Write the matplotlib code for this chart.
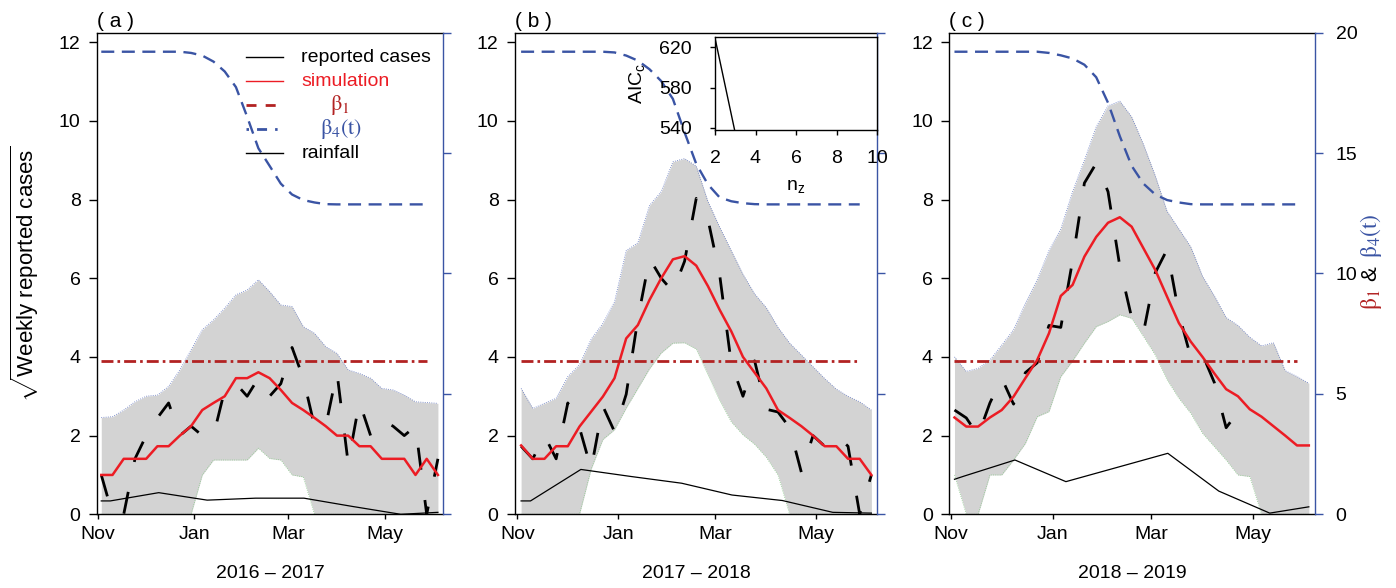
import numpy as np
import matplotlib.pyplot as plt

plt.rcParams['font.family'] = ['Liberation Sans', 'DejaVu Sans']
plt.rcParams['font.size'] = 14
plt.rcParams['mathtext.fontset'] = 'stix'
plt.rcParams['mathtext.rm'] = 'Liberation Sans'
plt.rcParams['mathtext.it'] = 'Liberation Sans:italic'
plt.rcParams['axes.linewidth'] = 1.0

RED = '#ec1c24'
DARKRED = '#b22222'
BLUE = '#3a54a4'
nan = np.nan

# x axis: days since 1 November, one point per week
weeks = np.linspace(2.3, 214.4, 31)
rain_days = [2.3, 8, 38.5, 69, 99.5, 130, 160.5, 191, 214.4]
month_days = [0, 61, 120, 181]
month_labels = ['Nov', 'Jan', 'Mar', 'May']
seasons = ['2016 \u2013 2017', '2017 \u2013 2018', '2018 \u2013 2019']
letters = ['( a )', '( b )', '( c )']

# sqrt weekly reported cases
rep_a = [1.0, 0.0, 0.0, 1.41, 2.0, 2.45, 2.83, 2.0, 2.24, 2.0, 2.0, 3.16, 3.32, 3.0, 3.46,
         3.0, 3.32, 4.24, 3.46, 2.24, 2.24, 3.61, 1.3, 2.86, 2.0, 2.4, 2.24, 2.0, 2.24, 0.0, 1.41]
rep_b = [1.73, 1.41, 2.0, 1.41, 2.83, 2.2, 1.15, 2.75, 2.1, 3.05, 4.97, 6.5, 6.0, 5.66, 6.43,
         8.03, 7.5, 6.1, 3.83, 3.0, 3.9, 2.67, 2.6, 2.2, 1.07, 2.0, 1.73, 2.0, 1.73, 0.0, 1.0]
rep_c = [2.65, 2.45, 2.0, 2.83, 3.46, 2.8, 3.6, 3.85, 4.8, 4.75, 6.45, 8.42, 8.92, 8.2, 6.3,
         5.0, 4.62, 6.14, 6.73, 5.1, 4.0, 4.06, 3.35, 2.2, 2.6, nan, nan, nan, nan, nan, nan]

# simulation (median) and envelope
sim_a = [1.0, 1.0, 1.41, 1.41, 1.41, 1.73, 1.73, 2.0, 2.24, 2.65, 2.83, 3.0, 3.46, 3.46, 3.61,
         3.46, 3.16, 2.83, 2.65, 2.45, 2.24, 2.0, 2.0, 1.73, 1.73, 1.41, 1.41, 1.41, 1.0, 1.41, 1.0]
sim_b = [1.75, 1.41, 1.41, 1.73, 1.73, 2.23, 2.61, 2.99, 3.46, 4.47, 4.81, 5.45, 6.0, 6.48, 6.56,
         6.32, 5.8, 5.2, 4.65, 4.0, 3.6, 3.2, 2.65, 2.45, 2.24, 2.0, 1.73, 1.73, 1.41, 1.41, 1.0]
sim_c = [2.46, 2.23, 2.23, 2.46, 2.65, 2.99, 3.46, 3.92, 4.6, 5.55, 5.83, 6.55, 7.05, 7.41, 7.55,
         7.31, 6.76, 6.21, 5.53, 4.86, 4.39, 4.0, 3.58, 3.18, 3.0, 2.67, 2.48, 2.24, 2.0, 1.75, 1.75]

up_a = [2.46, 2.48, 2.65, 2.86, 3.0, 3.03, 3.25, 3.67, 4.18, 4.69, 4.94, 5.24, 5.58, 5.7, 5.96,
        5.66, 5.32, 5.28, 4.77, 4.6, 4.26, 4.09, 3.67, 3.58, 3.46, 3.2, 3.16, 3.03, 2.86, 2.84, 2.82]
up_b = [3.2, 2.69, 2.82, 2.95, 3.5, 3.8, 4.45, 4.85, 5.4, 6.7, 6.9, 7.85, 8.2, 8.96, 9.04,
        8.85, 7.95, 7.3, 6.7, 6.1, 5.6, 5.25, 4.75, 4.35, 4.05, 3.75, 3.45, 3.18, 3.0, 2.86, 2.65]
up_c = [4.0, 3.63, 3.71, 3.92, 4.3, 4.69, 5.36, 5.96, 6.7, 7.25, 8.2, 9.0, 9.85, 10.38, 10.5,
        10.1, 9.4, 8.6, 7.7, 7.25, 6.8, 6.05, 5.55, 5.0, 4.8, 4.5, 4.28, 4.36, 3.65, 3.5, 3.33]

lo_a = [0, 0, 0, 0, 0, 0, 0, 0, 0, 1.0, 1.38, 1.38, 1.38, 1.38, 1.68,
        1.42, 1.38, 1.0, 0.95, 0, 0, 0, 0, 0, 0, 0, 0, 0, 0, 0, 0]
lo_b = [0, 0, 0, 0, 0, 0, 1.15, 1.9, 2.15, 2.7, 3.2, 3.7, 4.1, 4.35, 4.36,
        4.2, 3.55, 2.9, 2.35, 2.02, 1.78, 1.45, 1.0, 0, 0, 0, 0, 0, 0, 0, 0]
lo_c = [1.0, 0, 0, 1.0, 1.0, 1.38, 1.8, 2.48, 2.61, 3.5, 3.9, 4.35, 4.77, 4.9, 5.07,
        4.98, 4.52, 4.05, 3.42, 2.95, 2.57, 2.06, 1.72, 1.38, 1.0, 0.96, 0, 0, 0, 0, 0]

# monthly rainfall (scaled)
rain_a = [0.34, 0.34, 0.55, 0.36, 0.41, 0.41, 0.2, 0.0, 0.05]
rain_b = [0.34, 0.34, 1.14, 0.96, 0.79, 0.49, 0.35, 0.05, 0.03]
rain_c = [0.89, 0.97, 1.38, 0.83, 1.19, 1.55, 0.59, 0.03, 0.19]

# transmission rates (right axis)
beta1 = 6.35
beta4_a = [19.21] * 8 + [19.16, 19.05, 18.8, 18.39, 17.74, 16.51, 15.2, 14.47, 13.73, 13.28,
                         13.05, 12.95, 12.88] + [12.87] * 10
beta4_b = [19.21] * 8 + [19.18, 19.05, 18.84, 18.48, 17.99, 17.25, 15.86, 14.55, 13.7, 13.16,
                         13.0, 12.92, 12.88] + [12.87] * 10
beta4_c = [19.21] * 8 + [19.16, 19.06, 18.93, 18.67, 18.15, 17.09, 15.7, 14.47, 13.73, 13.28,
                         13.05, 12.95, 12.88] + [12.87] * 10

# inset: AICc against number of zones
nz = [2, 3, 4, 5, 6, 7, 8, 9, 10]
aicc = [629, 535, 526, 522, 527, 524, 522, 521, 520]

panels = [
    (rep_a, sim_a, up_a, lo_a, rain_a, beta4_a),
    (rep_b, sim_b, up_b, lo_b, rain_b, beta4_b),
    (rep_c, sim_c, up_c, lo_c, rain_c, beta4_c),
]

B1 = r'$\mathrm{\beta}_1$'
B4 = r'$\mathrm{\beta}_4\mathrm{(t)}$'

W, H = 1396, 588
fig = plt.figure(figsize=(W / 100, H / 100), dpi=100)


def add_axes_px(left, right, top, bottom):
    return fig.add_axes([left / W, 1 - bottom / H, (right - left) / W, (bottom - top) / H])


panel_px = [(97, 443), (515, 877), (949.3, 1315)]
xlims = [(-0.4, 217.6), (-1.4, 217.8), (-0.8, 218.1)]


def draw_panel(ax, rep, sim, up, lo, rain, beta4, show_right):
    ax.fill_between(weeks, lo, up, color='#d3d3d3', lw=0, zorder=1)
    ax.plot(weeks, up, color='#6478c0', lw=0.6, ls=':', zorder=1.5)
    ax.plot(weeks, lo, color='#8ccc8c', lw=0.6, ls=':', zorder=1.5)
    ax.plot(rain_days, rain, color='black', lw=0.9, zorder=2)
    ax.plot(weeks, rep, color='black', lw=2, ls=(0, (8, 11)), zorder=3)
    ax.plot(weeks, sim, color=RED, lw=1.8, zorder=4)
    ax.set_ylim(0, 12.24)
    ax.set_yticks(range(0, 13, 2))
    ax.set_xticks(month_days)
    ax.set_xticklabels(month_labels)
    ax.tick_params(axis='y', length=5.8, width=1, pad=6)
    ax.tick_params(axis='x', length=3.6, width=1, pad=5)
    ax.spines['right'].set_visible(False)

    ax2 = ax.twinx()
    ax2.plot(weeks[:30], [beta1] * 30, color=DARKRED, lw=2,
             ls=(0, (4.3, 1.45, 0.95, 1.45)))
    ax2.plot(weeks[:30], beta4[:30], color=BLUE, lw=1.7, ls=(0, (5.5, 3.2)))
    ax2.set_ylim(0, 20)
    ax2.set_yticks([0, 5, 10, 15, 20])
    for s in ['left', 'top', 'bottom']:
        ax2.spines[s].set_visible(False)
    ax2.spines['right'].set_color(BLUE)
    ax2.tick_params(axis='y', length=5.8, width=1, pad=9, color=BLUE,
                    labelcolor='black', labelright=show_right)
    return ax2


axes2 = []
for i, (rep, sim, up, lo, rain, beta4) in enumerate(panels):
    left, right = panel_px[i]
    ax = add_axes_px(left, right, 32.7, 514.3)
    ax.set_xlim(xlims[i])
    ax2 = draw_panel(ax, rep, sim, up, lo, rain, beta4, i == 2)
    ax2.set_xlim(xlims[i])
    ax.text(0, 1.003, letters[i], transform=ax.transAxes, ha='left', va='bottom', fontsize=15)
    ax.text(0.5, -0.122, seasons[i], transform=ax.transAxes, ha='center', va='center')
    axes2.append(ax2)

# legend of panel (a), drawn row by row
leg_ax = axes2[0]
leg_rows = [
    ('reported cases', 'black', 1.0, '-', 0.59),
    ('simulation', RED, 1.0, '-', 0.59),
    (B1, DARKRED, 2.0, (0, (3.6, 3.3)), 0.673),
    (B4, BLUE, 2.0, (0, (0.9, 2.9, 3.6, 2.9)), 0.645),
    ('rainfall', 'black', 1.0, '-', 0.59),
]
for k, (label, col, lw, ls, tx) in enumerate(leg_rows):
    y = 0.949 - 0.0498 * k
    leg_ax.plot([0.4306, 0.5376], [y, y], transform=leg_ax.transAxes, color=col, lw=lw, ls=ls,
                clip_on=False)
    size = 16 if label.startswith('$') else 14
    leg_ax.text(tx, y, label, transform=leg_ax.transAxes, color=col, ha='left', va='center',
                fontsize=size)

# inset in panel (b)
ins = add_axes_px(715, 877, 37, 130)
ins.plot(nz, aicc, color='black', lw=1)
ins.set_xlim(2, 10)
ins.set_ylim(538, 630)
ins.set_xticks([2, 4, 6, 8, 10])
ins.set_yticks([540, 580, 620])
ins.tick_params(axis='y', length=3.6, width=1, pad=13)
ins.tick_params(axis='x', length=3.6, width=1, pad=11)
ins.set_xlabel(r'$\mathrm{n_z}$', math_fontfamily='custom')
ins.set_ylabel(r'$\mathrm{AIC_c}$', math_fontfamily='custom')
ins.xaxis.set_label_coords(0.5, -0.52)
ins.yaxis.set_label_coords(-0.42, 0.5)

# axis titles
fig.text(25 / W, 0.534, r'$\sqrt{\mathrm{Weekly\ reported\ cases}}$', rotation=90,
         ha='center', va='center', fontsize=16, math_fontfamily='custom')
fig.text(1371 / W, (H - 300) / H, B1, rotation=90, color=DARKRED,
         ha='center', va='center', fontsize=17)
fig.text(1371 / W, (H - 274) / H, '&', rotation=90, color='black',
         ha='center', va='center', fontsize=16)
fig.text(1371 / W, (H - 236) / H, B4, rotation=90, color=BLUE,
         ha='center', va='center', fontsize=17)

fig.savefig('out.png', dpi=100)
